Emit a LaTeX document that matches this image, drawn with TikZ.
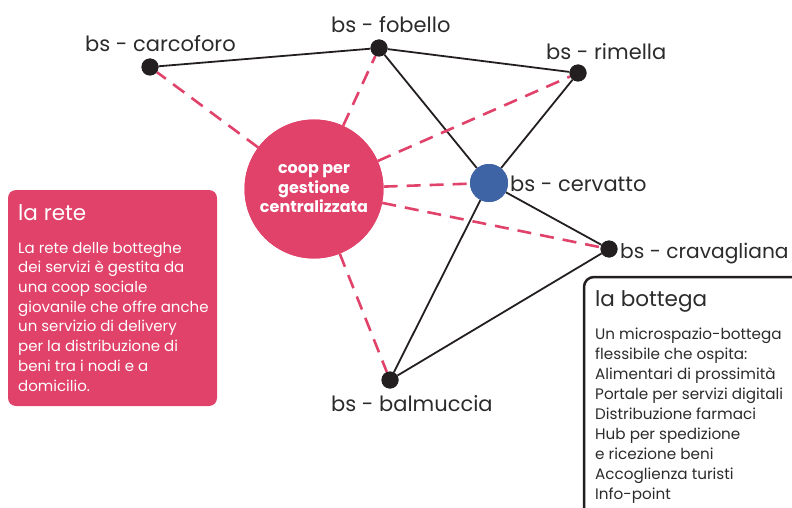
\documentclass[tikz,border=0pt]{standalone}
\usepackage{fontspec}
\setmainfont{Poppins}
\usetikzlibrary{positioning}

\definecolor{retepink}{HTML}{E1426A}
\definecolor{nodeblue}{HTML}{3E64A5}
\definecolor{dotblack}{HTML}{231F20}
\definecolor{textgray}{HTML}{2B2B2B}

\begin{document}
\begin{tikzpicture}[
    x=1pt, y=-1pt,
    % village dot
    village/.style={
        circle, fill=dotblack, inner sep=0pt, minimum size=17pt
    },
    % hub village (blue)
    hub village/.style={
        circle, fill=nodeblue, inner sep=0pt, minimum size=38pt
    },
    % central coop
    coop/.style={
        circle, fill=retepink, inner sep=0pt, minimum size=139pt,
        text=white, align=center,
        font=\fontsize{16}{19.5}\selectfont\bfseries
    },
    % village name
    place label/.style={
        anchor=base west, inner sep=0pt, text=textgray,
        font=\fontsize{21}{24}\selectfont
    },
    % network links
    link/.style={line width=1.8pt, dotblack},
    coop link/.style={
        line width=2.6pt, retepink, dash pattern=on 14pt off 9pt
    },
    % info boxes
    box title/.style={
        anchor=base west, inner sep=0pt,
        font=\fontsize{21.5}{24}\selectfont
    },
    box body/.style={
        anchor=base west, inner sep=0pt, align=left
    }
]
\useasboundingbox (0,0) rectangle (792,508);
\clip (0,0) rectangle (792,508);

% --- Info boxes ---
\fill[retepink, rounded corners=8pt] (8,190) rectangle (217,406);
\node[box title, text=white] (rete title) at (18,220) {la rete};
% anchored on the last baseline
\node[box body, text=white, font=\fontsize{15}{19.7}\selectfont] (rete body) at (18,391)
    {La rete delle botteghe\\dei servizi è gestita da\\una coop sociale\\giovanile che offre anche\\un servizio di delivery\\per la distribuzione di\\beni tra i nodi e a\\domicilio.};

\draw[line width=2.5pt, dotblack, rounded corners=10pt] (584,520) -- (584,277) -- (805,277);
\node[box title, text=textgray] (bottega title) at (595,306) {la bottega};
\node[box body, text=textgray, font=\fontsize{15.2}{19.9}\selectfont] (bottega body) at (595,499)
    {Un microspazio-bottega\\flessibile che ospita:\\Alimentari di prossimità\\Portale per servizi digitali\\Distribuzione farmaci\\Hub per spedizione\\e ricezione beni\\Accoglienza turisti\\Info-point};

% --- Villages ---
\node[village] (carcoforo) at (150,67) {};
\node[village] (fobello) at (379,48) {};
\node[village] (rimella) at (578,73) {};
\node[village] (cravagliana) at (609,249) {};
\node[village] (balmuccia) at (390,380) {};
\node[hub village] (cervatto) at (489,183) {};
\node[coop] (coop) at (314,189) {coop per\\gestione\\centralizzata};

% --- Links ---
\draw[link] (carcoforo) -- (fobello) -- (rimella);
\draw[link] (fobello) -- (cervatto);
\draw[link] (rimella) -- (cervatto);
\draw[link] (cervatto) -- (cravagliana);
\draw[link] (cervatto) -- (balmuccia);
\draw[link] (balmuccia) -- (cravagliana);

\foreach \v in {carcoforo, fobello, rimella, cervatto, cravagliana, balmuccia}
    \draw[coop link] (coop) -- (\v);

% redraw nodes on top
\node[village] at (carcoforo) {};
\node[village] at (fobello) {};
\node[village] at (rimella) {};
\node[village] at (cravagliana) {};
\node[village] at (balmuccia) {};
\node[hub village] at (cervatto) {};
\node[coop] at (coop) {coop per\\gestione\\centralizzata};

% --- Village names ---
\node[place label] (carcoforo name) at (85,52) {bs - carcoforo};
\node[place label] (fobello name) at (331,33) {bs - fobello};
\node[place label] (rimella name) at (546,60) {bs - rimella};
\node[place label] (cervatto name) at (510,191) {bs - cervatto};
\node[place label, font=\fontsize{20.2}{24}\selectfont] (cravagliana name) at (620,258) {bs - cravagliana};
\node[place label] (balmuccia name) at (331,411) {bs - balmuccia};

\end{tikzpicture}
\end{document}
